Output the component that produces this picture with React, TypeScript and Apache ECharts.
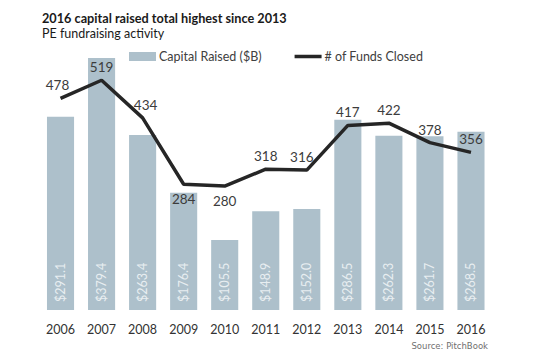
import React, { useEffect, useRef } from "react";
import * as echarts from "echarts";

const years = ["2006", "2007", "2008", "2009", "2010", "2011", "2012", "2013", "2014", "2015", "2016"];
const capitalRaised = [291.1, 379.4, 263.4, 176.4, 105.5, 148.9, 152.0, 286.5, 262.3, 261.7, 268.5];
const fundsClosed = [478, 519, 434, 284, 280, 318, 316, 417, 422, 378, 356];
const labelsBelow = ["2009", "2010"];

const FONT = "Lato, 'Open Sans', sans-serif";

function labelOffset(year: string): number[] {
  if (year === "2012") return [-5, 0];
  if (year === "2006") return [-3, 0];
  if (year === "2008") return [3, 0];
  return [0, 0];
}

export default function App() {
  const ref = useRef<HTMLDivElement>(null);
  useEffect(() => {
    document.body.style.margin = "0";
    const chart = echarts.init(ref.current!, null, { renderer: "svg" });
    chart.setOption({
      animation: false,
      backgroundColor: "#ffffff",
      textStyle: { fontFamily: FONT },
      title: [
        {
          text: "2016 capital raised total highest since 2013",
          left: 37,
          top: 6,
          textStyle: { fontFamily: FONT, fontSize: 12.7, fontWeight: "bold", color: "#1a1a1a" },
        },
        {
          text: "PE fundraising activity",
          left: 37,
          top: 22,
          textStyle: { fontFamily: FONT, fontSize: 12.5, fontWeight: "normal", color: "#1a1a1a" },
        },
        {
          text: "Source: PitchBook",
          right: 52,
          top: 341,
          padding: 0,
          textStyle: { fontFamily: "'DejaVu Sans', sans-serif", fontSize: 8.5, fontWeight: "normal", color: "#6f6f6f" },
        },
      ],
      legend: {
        left: 129,
        top: 50,
        padding: 0,
        itemGap: 33,
        itemWidth: 27,
        itemHeight: 9,
        textStyle: { fontFamily: FONT, fontSize: 12.5, color: "#404040", padding: [0, 0, 0, -2] },
        data: [
          { name: "Capital Raised ($B)", icon: "rect" },
          { name: "# of Funds Closed", icon: "path://M0,0L100,0L100,13L0,13Z" },
        ],
      },
      grid: { left: 40, right: 48.5, top: 44.4, bottom: 45 },
      xAxis: {
        type: "category",
        data: years,
        axisLine: { show: false },
        axisTick: { show: false },
        axisLabel: { fontFamily: FONT, fontSize: 12.5, color: "#333333", margin: 13 },
      },
      yAxis: [
        { type: "value", min: 0, max: 400, show: false, splitLine: { show: false } },
        { type: "value", min: 0, max: 600, show: false, splitLine: { show: false } },
      ],
      series: [
        {
          name: "Capital Raised ($B)",
          type: "bar",
          yAxisIndex: 0,
          data: capitalRaised,
          barWidth: "66%",
          itemStyle: { color: "#adc0cb" },
          label: {
            show: true,
            position: "insideBottom",
            rotate: 90,
            align: "left",
            verticalAlign: "middle",
            distance: 8,
            fontFamily: FONT,
            fontSize: 12.5,
            color: "#e8eef1",
            formatter: (p: any) => "$" + Number(p.value).toFixed(1),
          },
        },
        {
          name: "# of Funds Closed",
          type: "line",
          yAxisIndex: 1,
          symbol: "circle",
          symbolSize: 0.01,
          showSymbol: true,
          data: fundsClosed.map((v, i) => ({
            value: v,
            label: {
              show: true,
              position: labelsBelow.includes(years[i]) ? "bottom" : "top",
              distance: labelsBelow.includes(years[i]) ? 8 : 6,
              offset: labelOffset(years[i]),
            },
          })),
          lineStyle: { color: "#262626", width: 3.5 },
          itemStyle: { color: "#262626" },
          label: {
            show: true,
            position: "top",
            distance: 6,
            fontFamily: FONT,
            fontSize: 13.5,
            color: "#3c3c3c",
          },
        },
      ],
    });
    return () => chart.dispose();
  }, []);
  return <div ref={ref} style={{ width: 540, height: 355 }} />;
}
